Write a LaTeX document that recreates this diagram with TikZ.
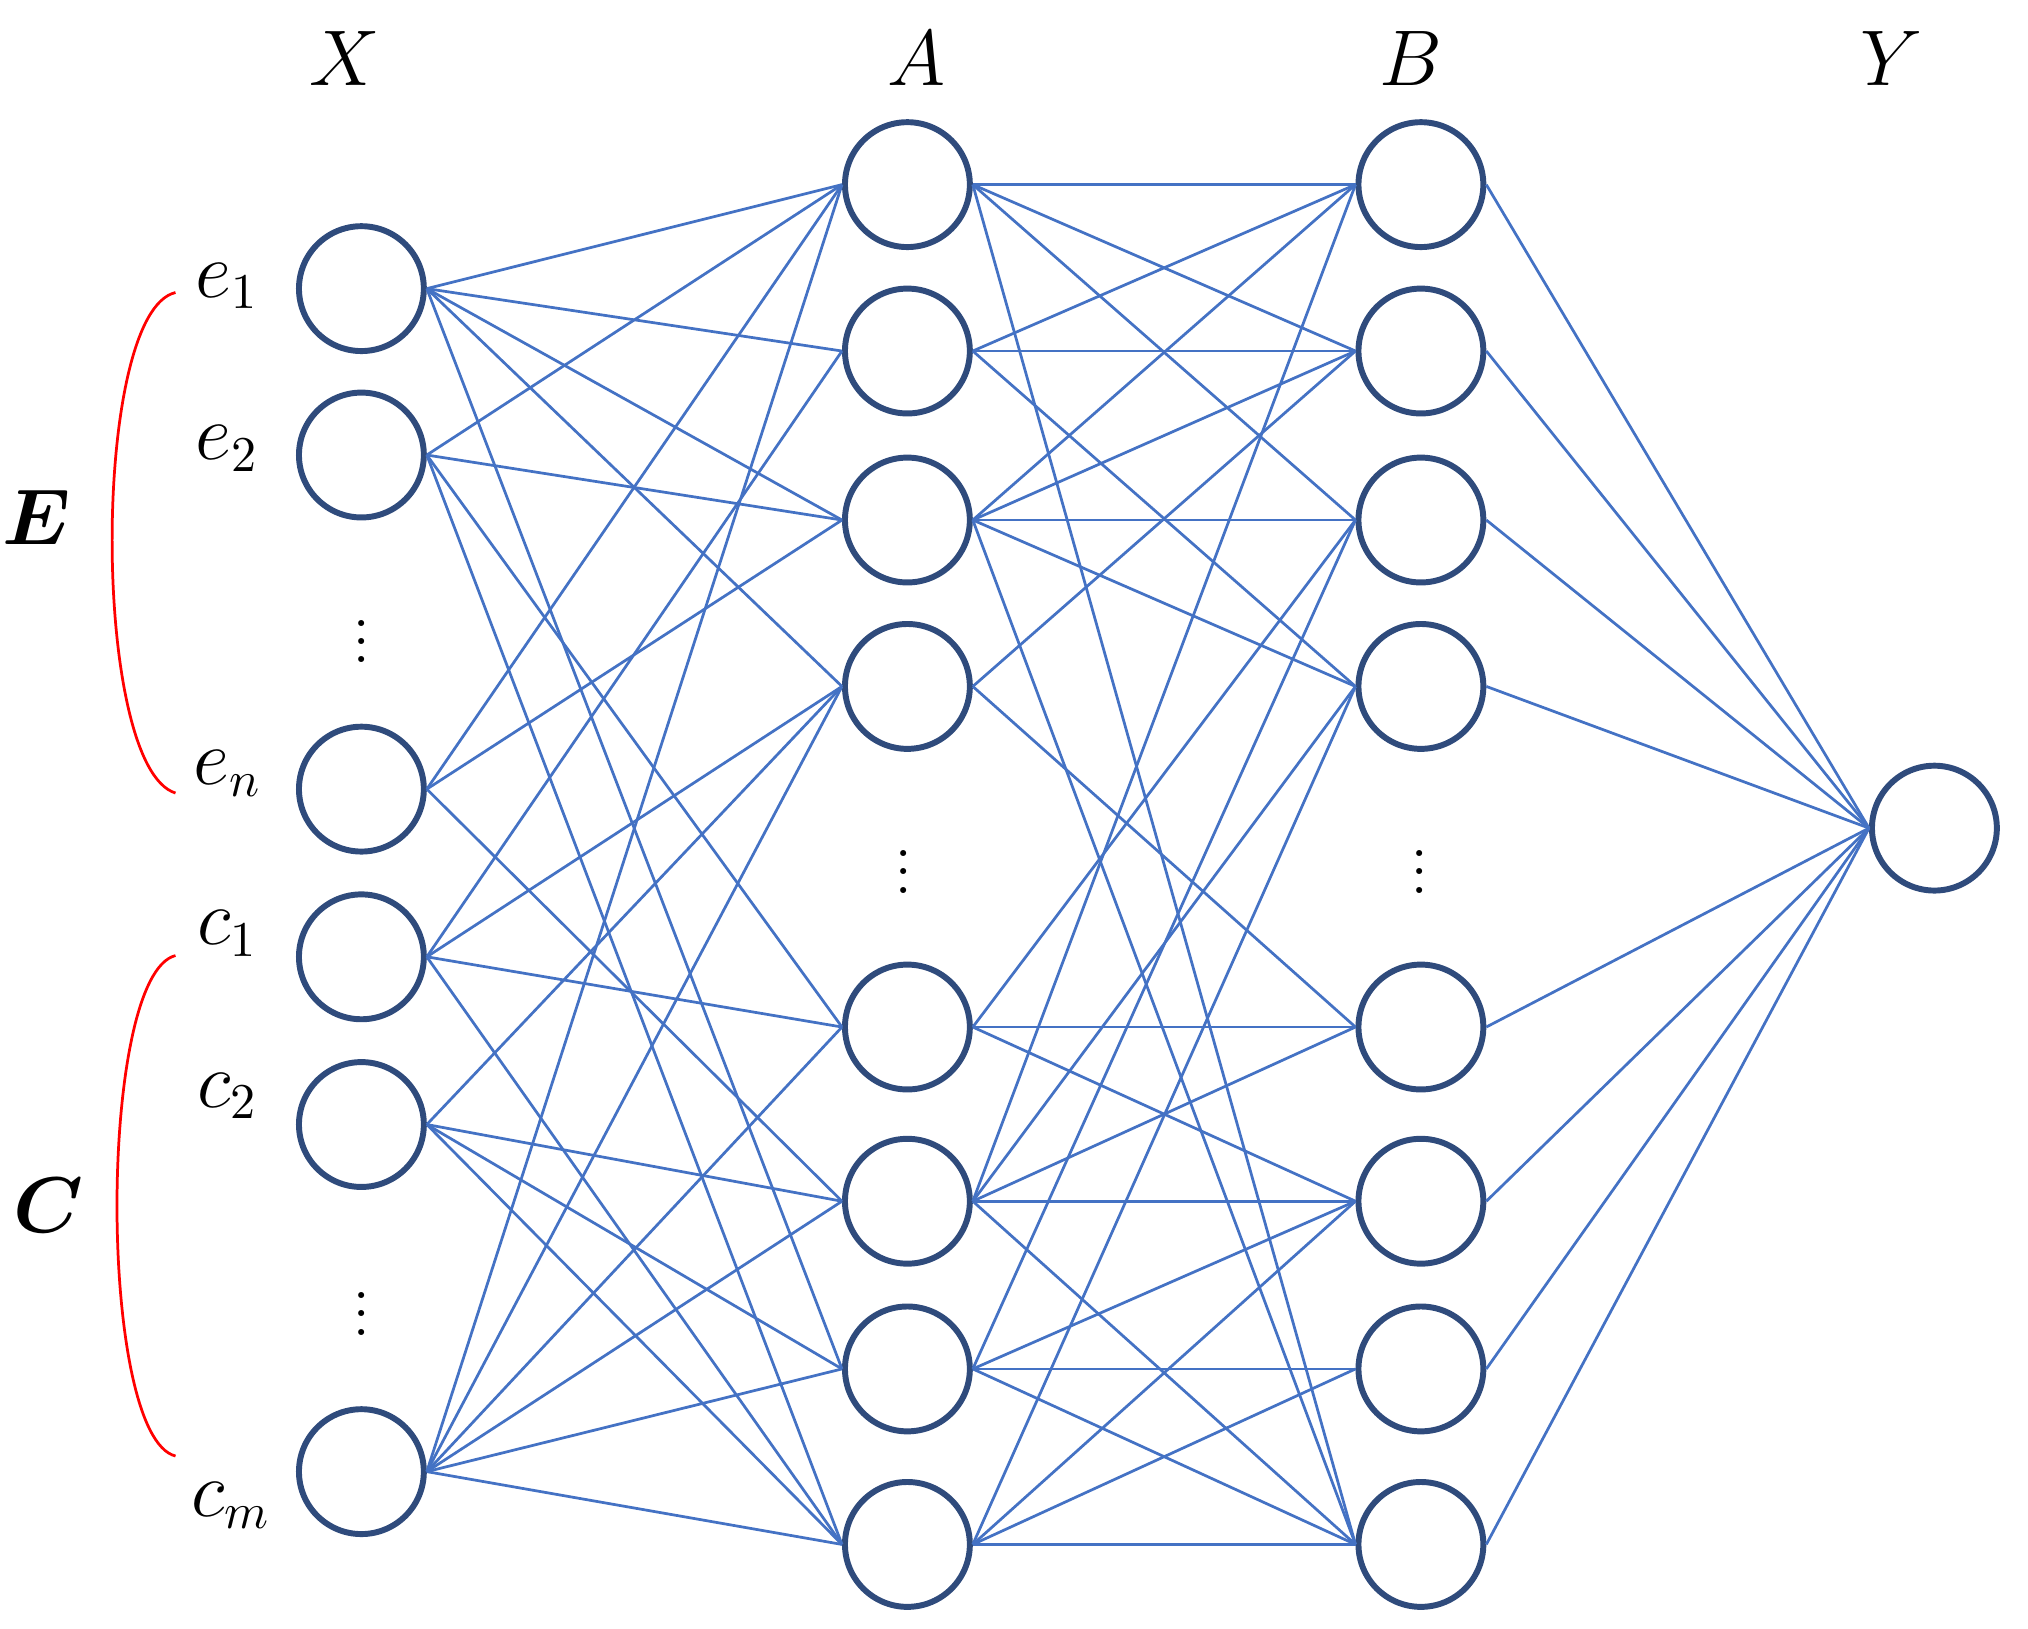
\documentclass[tikz,border=0pt]{standalone}
\usepackage{amsmath}
\usepackage{bm}
\begin{document}
\begin{tikzpicture}[x=0.01cm,y=-0.01cm,
  neuron/.style={circle,draw=circ,line width=1.3pt,minimum size=0.96cm,inner sep=0pt},
  edge/.style={draw=edgec,line width=0.6pt},
  lab/.style={font=\fontsize{16}{19}\selectfont},
  dots/.style={font=\fontsize{16}{19}\selectfont,inner sep=0pt},
  brace/.style={draw=red,line width=0.6pt}]
\definecolor{circ}{HTML}{2F4B7C}
\definecolor{edgec}{HTML}{4472C4}
\useasboundingbox (0,0) rectangle (1560,1253);
% nodes
\foreach \n/\y in {1/222,2/350,3/607,4/736,5/865,6/1132} \node[neuron] (x\n) at (278,\y) {};
\foreach \n/\y in {1/142,2/270,3/400,4/528,5/790,6/924,7/1053,8/1188} {
  \node[neuron] (a\n) at (698,\y) {};
  \node[neuron] (b\n) at (1093,\y) {};
}
\node[neuron] (y) at (1488,637) {};
% X -> A edges
\foreach \i/\js in {1/{1,2,3,4,7},2/{1,3,5,8},3/{1,3,6},4/{2,4,5,8},5/{4,6,7,8},6/{1,4,5,6,7,8}}
  \foreach \j in \js \draw[edge] (x\i.east) -- (a\j.west);
% A -> B edges
\foreach \i/\js in {1/{1,2,3,8},2/{1,2,4},3/{1,2,3,4,8},4/{2,5},5/{3,5,6},6/{1,4,5,6,8},7/{3,6,7,8},8/{4,6,7,8}}
  \foreach \j in \js \draw[edge] (a\i.east) -- (b\j.west);
% B -> Y
\foreach \i in {1,...,8} \draw[edge] (b\i.east) -- (y.west);
% labels
\node[lab] (lx) at (265,45) {$X$};
\node[lab] (la) at (705,45) {$A$};
\node[lab] (lb) at (1085,45) {$B$};
\node[lab] (ly) at (1455,45) {$Y$};
\node[lab] (le1) at (175,220) {$e_1$};
\node[lab] (le2) at (175,345) {$e_2$};
\node[lab] (len) at (175,595) {$e_n$};
\node[lab] (lc1) at (175,718) {$c_1$};
\node[lab] (lc2) at (175,843) {$c_2$};
\node[lab] (lcm) at (178,1158) {$c_m$};
\node[lab] (lE) at (28,398) {$\bm{E}$};
\node[lab] (lC) at (37,927) {$\bm{C}$};
\node[dots] (d1) at (278,483) {$\vdots$};
\node[dots] (d2) at (278,1000) {$\vdots$};
\node[dots] (d3) at (695,660) {$\vdots$};
\node[dots] (d4) at (1092,660) {$\vdots$};
% brackets
\draw[brace] (135,225) .. controls (70,240) and (70,590) .. (135,610);
\draw[brace] (135,735) .. controls (75,750) and (75,1105) .. (135,1120);
\end{tikzpicture}
\end{document}
